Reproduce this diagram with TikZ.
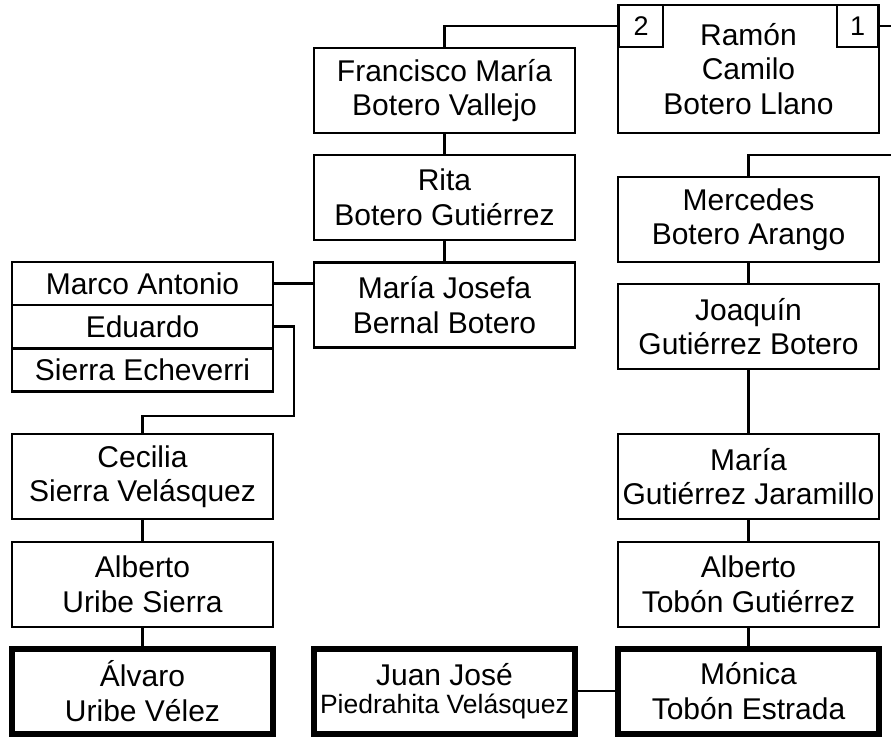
\documentclass[tikz,border=0pt]{standalone}
\usepackage{fontspec}
\setmainfont{Liberation Sans}

\begin{document}
\begin{tikzpicture}[x=1pt, y=-1pt,
        person/.style={draw, line width=2.8pt, minimum width=261pt, minimum height=85pt, inner sep=0pt, align=center, font=\fontsize{30}{34.5}\selectfont},
        self/.style={person, line width=6pt},
        row/.style={person, minimum height=43pt},
        tag/.style={draw, line width=2.8pt, minimum height=42pt, inner sep=0pt, font=\fontsize{27}{30}\selectfont},
        link/.style={line width=2.8pt}]
            \pgfmathsetmacro{\leftCol}{142.5}
            \pgfmathsetmacro{\midCol}{444.5}
            \pgfmathsetmacro{\rightCol}{748.5}

            \useasboundingbox (0, 0) rectangle (891, 738);

            % middle column
            \node[person] (fb) at (\midCol, 90.5) {Francisco María\\Botero Vallejo};
            \node[person] (rb) at (\midCol, 197.5) {Rita\\Botero Gutiérrez};
            \node[person] (mj) at (\midCol, 305) {María Josefa\\Bernal Botero};
            \node[self] (jj) at (\midCol, 691) {Juan José\\[-6pt]{\fontsize{26.5}{30}\selectfont Piedrahita Velásquez}};

            % right column
            \node[person, minimum height=128pt] (rc) at (\rightCol, 69) {Ramón\\Camilo\\Botero Llano};
            \node[tag, minimum width=44pt] (n2) at (641, 26) {2};
            \node[tag, minimum width=41pt] (n1) at (857.5, 26) {1};
            \node[person] (mb) at (\rightCol, 219.5) {Mercedes\\Botero Arango};
            \node[person] (jg) at (\rightCol, 326.5) {Joaquín\\Gutiérrez Botero};
            \node[person] (mg) at (\rightCol, 476.5) {María\\Gutiérrez Jaramillo};
            \node[person] (at) at (\rightCol, 584.5) {Alberto\\Tobón Gutiérrez};
            \node[self] (mt) at (\rightCol, 691) {Mónica\\Tobón Estrada};

            % left column
            \node[row] (ma) at (\leftCol, 283.5) {Marco Antonio};
            \node[row] (ed) at (\leftCol, 326.5) {Eduardo};
            \node[row] (se) at (\leftCol, 370) {Sierra Echeverri};
            \node[person] (cs) at (\leftCol, 476.5) {Cecilia\\Sierra Velásquez};
            \node[person] (au) at (\leftCol, 584.5) {Alberto\\Uribe Sierra};
            \node[self] (av) at (\leftCol, 691) {Álvaro\\Uribe Vélez};

            % free ends and bends
            \coordinate (e1) at (891, 26);
            \coordinate (e2) at (891, 155);
            \coordinate (eb) at (294, 416);

            % connect the boxes
            \draw[link] (fb.north) |- (n2.west);
            \draw[link] (n1.east) -- (e1);
            \draw[link] (mb.north) |- (e2);
            \draw[link] (ma.east) -- (mj.west |- ma.east);
            \draw[link] (ed.east) -| (eb) -| (cs.north);
            \draw[link] (jj) -- (mt);

            % vertical lines down each column
            \foreach \a/\b in {fb/rb, rb/mj, cs/au, au/av, mb/jg, jg/mg, mg/at, at/mt}
            \draw[link] (\a) -- (\b);

        \end{tikzpicture}
\end{document}
